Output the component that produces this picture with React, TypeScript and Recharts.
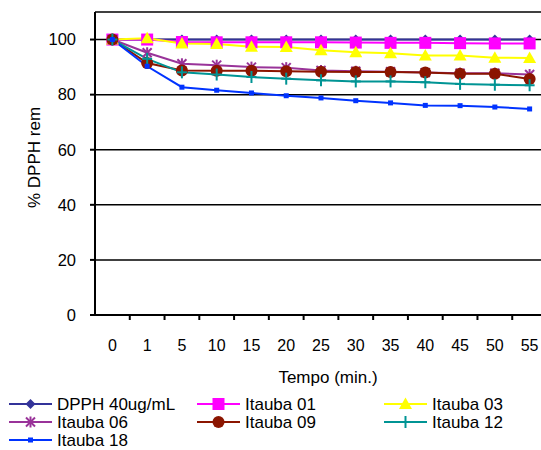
import { LineChart, Line, XAxis, YAxis, CartesianGrid, Legend } from 'recharts';

const categories = ['0', '1', '5', '10', '15', '20', '25', '30', '35', '40', '45', '50', '55'];
const dpph = [100, 100, 100, 100, 100, 100, 100, 100, 100, 100, 100, 100, 100];
const itauba01 = [100, 100, 99.1, 99, 99, 99, 99, 98.9, 98.8, 98.8, 98.7, 98.6, 98.6];
const itauba03 = [100, 100.5, 98.6, 98.4, 97.4, 97.3, 96.1, 95.4, 95, 94.2, 94.2, 93.4, 93.3];
const itauba06 = [100, 95.2, 91.2, 90.7, 90, 89.8, 88.8, 88.5, 88.3, 88, 87.8, 87.8, 87.3];
const itauba09 = [100, 91.5, 88.8, 88.7, 88.7, 88.5, 88.3, 88.2, 88.2, 88, 87.6, 87.6, 85.7];
const itauba12 = [100, 93, 88.1, 87.3, 86.4, 85.8, 85.2, 84.8, 84.8, 84.5, 83.9, 83.6, 83.4];
const itauba18 = [100, 90.3, 82.7, 81.6, 80.6, 79.6, 78.8, 77.8, 77, 76.1, 76, 75.5, 74.8];
const yTicks = [0, 20, 40, 60, 80, 100];

type Shape = 'diamond' | 'square' | 'triangle' | 'star' | 'circle' | 'plus' | 'smallSquare';

const series: { key: string; name: string; values: number[]; color: string; shape: Shape }[] = [
  { key: 'dpph', name: 'DPPH 40ug/mL', values: dpph, color: '#333399', shape: 'diamond' },
  { key: 'i01', name: 'Itauba 01', values: itauba01, color: '#ff00ff', shape: 'square' },
  { key: 'i03', name: 'Itauba 03', values: itauba03, color: '#ffff00', shape: 'triangle' },
  { key: 'i06', name: 'Itauba 06', values: itauba06, color: '#993399', shape: 'star' },
  { key: 'i09', name: 'Itauba 09', values: itauba09, color: '#8b1500', shape: 'circle' },
  { key: 'i12', name: 'Itauba 12', values: itauba12, color: '#009494', shape: 'plus' },
  { key: 'i18', name: 'Itauba 18', values: itauba18, color: '#0033ff', shape: 'smallSquare' },
];

const data = categories.map((t, i) => {
  const row: Record<string, string | number> = { t };
  series.forEach((s) => {
    row[s.key] = s.values[i];
  });
  return row;
});

const FONT = '"Liberation Sans", Arial, sans-serif';

function Marker({ shape, color, cx, cy }: { shape: Shape; color: string; cx: number; cy: number }) {
  switch (shape) {
    case 'diamond':
      return <polygon points={`${cx},${cy - 5} ${cx + 5},${cy} ${cx},${cy + 5} ${cx - 5},${cy}`} fill={color} />;
    case 'square':
      return <rect x={cx - 6} y={cy - 6} width={12} height={12} fill={color} />;
    case 'triangle':
      return <polygon points={`${cx},${cy - 6.5} ${cx + 6.5},${cy + 5} ${cx - 6.5},${cy + 5}`} fill={color} />;
    case 'star':
      return (
        <g stroke={color} strokeWidth={2}>
          <line x1={cx - 4.5} y1={cy - 4.5} x2={cx + 4.5} y2={cy + 4.5} />
          <line x1={cx - 4.5} y1={cy + 4.5} x2={cx + 4.5} y2={cy - 4.5} />
          <line x1={cx} y1={cy - 5.5} x2={cx} y2={cy + 5.5} />
        </g>
      );
    case 'circle':
      return <circle cx={cx} cy={cy} r={6} fill={color} />;
    case 'plus':
      return (
        <g stroke={color} strokeWidth={2}>
          <line x1={cx - 5} y1={cy} x2={cx + 5} y2={cy} />
          <line x1={cx} y1={cy - 6} x2={cx} y2={cy + 6} />
        </g>
      );
    default:
      return <rect x={cx - 2.5} y={cy - 2.5} width={5} height={5} fill={color} />;
  }
}

const TICK_SIZE = 6;
const TICK_MARGIN = 2;

function XTick(props: any) {
  const { x, y, payload } = props;
  const axisY = y - TICK_SIZE - TICK_MARGIN;
  const bx = x + (payload.offset || 0);
  const last = payload.index === categories.length - 1;
  return (
    <g>
      {!last && <line x1={bx} y1={axisY} x2={bx} y2={axisY + 5} stroke="#000" strokeWidth={2} />}
      <text x={x} y={y} dy={28} textAnchor="middle" fontSize={16} fontFamily={FONT} fill="#000">
        {payload.value}
      </text>
    </g>
  );
}

const legendSlots = [
  { x: 9, y: 10 },
  { x: 197, y: 10 },
  { x: 384, y: 10 },
  { x: 9, y: 28 },
  { x: 197, y: 28 },
  { x: 384, y: 28 },
  { x: 9, y: 46 },
];

function ChartLegend() {
  return (
    <svg width={541} height={56} style={{ display: 'block' }}>
      {series.map((s, i) => {
        const p = legendSlots[i];
        return (
          <g key={s.key}>
            <line x1={p.x} y1={p.y} x2={p.x + 43} y2={p.y} stroke={s.color} strokeWidth={2} />
            <Marker shape={s.shape} color={s.color} cx={p.x + 21.5} cy={p.y} />
            <text x={p.x + 48} y={p.y} dy={6} fontSize={17} fontFamily={FONT} fill="#000">
              {s.name}
            </text>
          </g>
        );
      })}
    </svg>
  );
}

export default function App() {
  return (
    <div
      style={{
        position: 'absolute',
        left: 0,
        top: 0,
        width: 541,
        height: 450,
        overflow: 'hidden',
        background: '#fff',
      }}
    >
      <LineChart width={547} height={450} data={data} margin={{ top: 12, right: 0, bottom: 0, left: 0 }}>
        <CartesianGrid horizontal vertical={false} stroke="#000" strokeWidth={1.5} />
        <XAxis
          dataKey="t"
          scale="band"
          height={79}
          interval={0}
          tickSize={TICK_SIZE}
          tickMargin={TICK_MARGIN}
          tickLine={false}
          axisLine={{ stroke: '#000', strokeWidth: 2 }}
          tick={<XTick />}
          label={{
            value: 'Tempo (min.)',
            position: 'insideBottom',
            offset: 11,
            dx: 7,
            fontSize: 17,
            fontFamily: FONT,
            fill: '#000',
          }}
        />
        <YAxis
          width={95}
          domain={[0, 110]}
          ticks={yTicks}
          interval={0}
          tickSize={5}
          tickMargin={14}
          axisLine={{ stroke: '#000', strokeWidth: 2 }}
          tickLine={{ stroke: '#000', strokeWidth: 2 }}
          tick={{ fontSize: 16.5, fontFamily: FONT, fill: '#000' }}
          label={{
            value: '% DPPH rem',
            angle: -90,
            position: 'center',
            dx: -14,
            dy: -6,
            fontSize: 17,
            fontFamily: FONT,
            fill: '#000',
          }}
        />
        <Legend
          verticalAlign="bottom"
          content={() => <ChartLegend />}
          wrapperStyle={{ left: 0, width: 541, height: 56 }}
        />
        {series.map((s) => (
          <Line
            key={s.key}
            dataKey={s.key}
            name={s.name}
            stroke={s.color}
            strokeWidth={2}
            isAnimationActive={false}
            dot={(p: any) => <Marker key={`${s.key}-${p.index}`} shape={s.shape} color={s.color} cx={p.cx} cy={p.cy} />}
            activeDot={false}
          />
        ))}
      </LineChart>
    </div>
  );
}
